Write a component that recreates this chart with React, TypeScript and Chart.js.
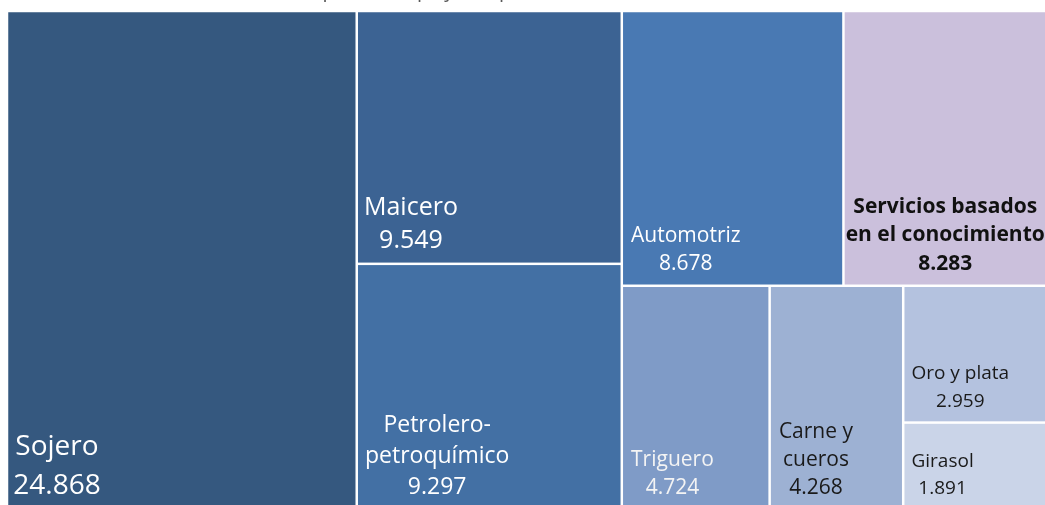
import React, { useEffect, useRef } from "react";
import { Chart, registerables } from "chart.js";

Chart.register(...registerables);

// ---- data ----
const categories = [
  "Sojero",
  "Maicero",
  "Petrolero-\npetroquímico",
  "Automotriz",
  "Servicios basados\nen el conocimiento",
  "Triguero",
  "Carne y\ncueros",
  "Oro y plata",
  "Girasol",
];
const values = [24868, 9549, 9297, 8678, 8283, 4724, 4268, 2959, 1891];
const titleText = "Principales complejos exportadores, en millones de US$";

// ---- styles ----
const cellColors = [
  "#35587F",
  "#3C6393",
  "#4370A4",
  "#4979B3",
  "#CBC0DC",
  "#7F9BC7",
  "#9DB1D3",
  "#B4C2DF",
  "#CAD4E8",
];
const textColors = [
  "#FFFFFF",
  "#FFFFFF",
  "#FFFFFF",
  "#FFFFFF",
  "#111111",
  "#F4F4F4",
  "#1A1A1A",
  "#1A1A1A",
  "#1A1A1A",
];
const fontSizes = [28, 25, 23, 21, 21, 21, 21, 19, 19];
const lineHeights = [39, 33, 31, 28.5, 28.7, 28.3, 28.3, 27.6, 27];
const boldLabels = [false, false, false, false, true, false, false, false, false];
const leftPads = [5, 6, 7, 8, 1, 8, 8, 7, 7];
const FONT = "'Open Sans', 'Noto Sans', sans-serif";
const GAP = 1.25;
const BOTTOM_PAD = 14.5;

function formatValue(v: number): string {
  return String(v).replace(/\B(?=(\d{3})+(?!\d))/g, ".");
}

type Rect = { x: number; y: number; w: number; h: number };

// squarified treemap in a [0,ratio]x[0,1] space, returned normalised to [0,1]x[0,1]
function squarify(vals: number[], ratio: number) {
  const total = vals.reduce((a, b) => a + b, 0);
  const areas = vals.map((v) => (v / total) * ratio);
  const out: Rect[] = [];
  let rect: Rect = { x: 0, y: 0, w: ratio, h: 1 };
  const sumOf = (r: number[]) => r.reduce((a, b) => a + b, 0);
  const worst = (row: number[], s: number) => {
    const sum = sumOf(row);
    const mx = Math.max(...row);
    const mn = Math.min(...row);
    return Math.max((s * s * mx) / (sum * sum), (sum * sum) / (s * s * mn));
  };
  let i = 0;
  while (i < areas.length) {
    const s = Math.min(rect.w, rect.h);
    const row = [areas[i]];
    let j = i + 1;
    while (j < areas.length && worst([...row, areas[j]], s) <= worst(row, s)) {
      row.push(areas[j]);
      j++;
    }
    const sum = sumOf(row);
    if (rect.w >= rect.h) {
      const cw = sum / rect.h;
      let y = rect.y;
      row.forEach((a) => {
        const ch = a / cw;
        out.push({ x: rect.x, y, w: cw, h: ch });
        y += ch;
      });
      rect = { x: rect.x + cw, y: rect.y, w: rect.w - cw, h: rect.h };
    } else {
      const rh = sum / rect.w;
      let x = rect.x;
      row.forEach((a) => {
        const cw = a / rh;
        out.push({ x, y: rect.y, w: cw, h: rh });
        x += cw;
      });
      rect = { x: rect.x, y: rect.y + rh, w: rect.w, h: rect.h - rh };
    }
    i = j;
  }
  return out.map((r) => ({
    x0: r.x / ratio,
    x1: (r.x + r.w) / ratio,
    y0: r.y,
    y1: r.y + r.h,
  }));
}

const treemapPlugin = {
  id: "treemapCells",
  beforeDatasetsDraw(chart: any) {
    const { ctx, chartArea, scales } = chart;
    const xs = scales.x;
    const ys = scales.y;
    const ratio =
      (chartArea.right - chartArea.left) / (chartArea.bottom - chartArea.top);
    const cells = squarify(values, ratio);
    ctx.save();
    cells.forEach((c, k) => {
      const left = xs.getPixelForValue(c.x0) + GAP;
      const right = xs.getPixelForValue(c.x1) - GAP;
      const top = ys.getPixelForValue(c.y0) + GAP;
      const bottom = ys.getPixelForValue(c.y1) - GAP;
      ctx.fillStyle = cellColors[k];
      ctx.fillRect(left, top, right - left, bottom - top);

      const lines = [...categories[k].split("\n"), formatValue(values[k])];
      const fs = fontSizes[k];
      ctx.font = `${boldLabels[k] ? "bold " : ""}${fs}px ${FONT}`;
      ctx.fillStyle = textColors[k];
      ctx.textBaseline = "alphabetic";
      ctx.textAlign = "center";
      const blockW = Math.max(...lines.map((l) => ctx.measureText(l).width));
      const cx = left + leftPads[k] + blockW / 2;
      const lastBase = bottom - BOTTOM_PAD;
      const lh = lineHeights[k];
      lines.forEach((l, n) => {
        const y = lastBase - (lines.length - 1 - n) * lh;
        ctx.fillText(l, cx, y);
      });
    });
    ctx.restore();
  },
};

export default function App() {
  const ref = useRef<HTMLCanvasElement | null>(null);
  useEffect(() => {
    if (!ref.current) return;
    const chart = new Chart(ref.current, {
      type: "scatter",
      data: { datasets: [] },
      options: {
        animation: false,
        responsive: false,
        layout: { padding: 0 },
        scales: {
          x: { type: "linear", min: 0, max: 1, display: false },
          y: { type: "linear", min: 0, max: 1, reverse: true, display: false },
        },
        plugins: {
          legend: { display: false },
          tooltip: { enabled: false },
          title: {
            display: true,
            text: titleText,
            color: "#595959",
            font: { family: FONT, size: 20, weight: "normal" },
            padding: { top: 0, bottom: 8 },
          },
        },
      },
      plugins: [treemapPlugin],
    });
    return () => chart.destroy();
  }, []);

  return (
    <div
      style={{
        position: "fixed",
        left: 0,
        top: 0,
        width: 1045,
        height: 505,
        overflow: "hidden",
        background: "#FFFFFF",
      }}
    >
      <div style={{ position: "absolute", left: 7, top: -21, width: 1048, height: 531 }}>
        <canvas
          ref={ref}
          width={1048}
          height={531}
          style={{ display: "block", width: 1048, height: 531 }}
        />
      </div>
    </div>
  );
}
